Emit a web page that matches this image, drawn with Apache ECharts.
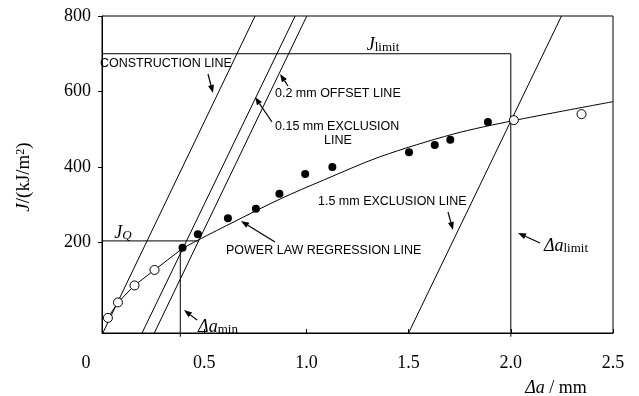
<!DOCTYPE html>
<html>
<head>
<meta charset="utf-8">
<script src="https://cdn.jsdelivr.net/npm/echarts@6/dist/echarts.min.js"></script>
<style>
  html, body { margin: 0; background: #fff; }
  #main { width: 639px; height: 396px; }
</style>
</head>
<body>
<div id="main"></div>
<script>
    // 测试点 (Δa mm, J kJ/m2)
    const openPts = [[0.029, 0], [0.078, 41], [0.159, 86], [0.257, 127], [2.015, 524], [2.346, 540]];
    const filledPts = [[0.394, 186], [0.469, 222], [0.616, 264], [0.753, 289], [0.868, 329], [0.994, 381],
        [1.127, 400], [1.502, 439], [1.628, 458], [1.704, 472], [1.888, 519]];

    // 钝化段折线 + 幂律回归曲线
    const bluntSegment = [[0.029, 0], [0.078, 41], [0.159, 86], [0.257, 127], [0.394, 184]];
    const regression = [[0.394, 184], [0.469, 206], [0.651, 256], [0.871, 315], [1.083, 365],
        [1.36, 427], [1.718, 487], [2.015, 523], [2.5, 573]];

    // 构造线 / 排除线
    const constructionLine = [[0.004, -40], [0.749, 800]];
    const exclusion015 = [[0.196, -40], [0.945, 800]];
    const offset02 = [[0.256, -40], [1.002, 800]];
    const exclusion15 = [[1.5, -40], [2.248, 800]];
    const jLimitLine = [[0, 700], [2.0, 700], [2.0, -50]];
    const jQLine = [[0, 204], [0.472, 204]];
    const aMinLine = [[0.383, 190], [0.383, -50]];

    const xTicks = [0, 0.5, 1.0, 1.5, 2.0, 2.5];
    const yTicks = [200, 400, 600, 800];

    const serif = 'Liberation Serif';
    const sans = 'Liberation Sans';

    function plainLine(data, extra) {
        return Object.assign({
            type: 'line',
            data: data,
            symbol: 'none',
            clip: false,
            silent: true,
            lineStyle: { color: '#000', width: 1 },
            z: 2
        }, extra || {});
    }

    function arrow(x1, y1, x2, y2) {
        let a = Math.atan2(y2 - y1, x2 - x1);
        let len = 8, w = 3;
        let bx = x2 - len * Math.cos(a), by = y2 - len * Math.sin(a);
        return {
            type: 'group',
            children: [{
                type: 'line',
                shape: { x1: x1, y1: y1, x2: bx, y2: by },
                style: { stroke: '#000', lineWidth: 1.2 }
            }, {
                type: 'polygon',
                shape: {
                    points: [[x2, y2],
                        [bx + w * Math.sin(a), by - w * Math.cos(a)],
                        [bx - w * Math.sin(a), by + w * Math.cos(a)]]
                },
                style: { fill: '#000' }
            }]
        };
    }

    function caps(text, x, y, align) {
        return {
            type: 'text',
            x: x,
            y: y,
            style: {
                text: text,
                font: '12.5px ' + sans,
                fill: '#000',
                align: align || 'left',
                verticalAlign: 'middle'
            }
        };
    }

    const serifRich = {
        i: { fontFamily: serif, fontStyle: 'italic', fontSize: 18, color: '#000' },
        n: { fontFamily: serif, fontSize: 18, color: '#000' },
        sub: { fontFamily: serif, fontSize: 13, color: '#000', verticalAlign: 'bottom' },
        subi: { fontFamily: serif, fontStyle: 'italic', fontSize: 13, color: '#000', verticalAlign: 'bottom' },
        yi: { fontFamily: serif, fontStyle: 'italic', fontSize: 19, color: '#000' },
        yn: { fontFamily: serif, fontSize: 19, color: '#000' },
        sup: { fontFamily: serif, fontSize: 12, color: '#000', verticalAlign: 'top' }
    };

    function serifLabel(text, x, y, rot) {
        return {
            type: 'text',
            x: x,
            y: y,
            rotation: rot || 0,
            style: {
                text: text,
                rich: serifRich,
                align: 'center',
                verticalAlign: 'middle'
            }
        };
    }

    let chart = echarts.init(document.getElementById('main'), null, { renderer: 'canvas' });

    chart.setOption({
        animation: false,
        backgroundColor: '#fff',
        grid: {
            left: 102,
            right: 26,
            top: 16,
            bottom: 63,
            show: true,
            borderColor: '#000',
            borderWidth: 1
        },
        xAxis: {
            type: 'value',
            min: 0,
            max: 2.5,
            interval: 0.5,
            axisLine: { onZero: false, lineStyle: { color: '#000', width: 1 } },
            axisTick: { inside: true, length: 4, lineStyle: { color: '#000' } },
            splitLine: { show: false },
            axisLabel: {
                margin: 21,
                color: '#000',
                fontFamily: serif,
                fontSize: 18,
                formatter: v => v === 0 ? '{z|0}' : xTicks.indexOf(v) >= 0 ? v.toFixed(1) : '',
                rich: {
                    z: { fontFamily: serif, fontSize: 18, color: '#000', padding: [0, 32, 0, 0] }
                }
            }
        },
        yAxis: {
            type: 'value',
            min: -40,
            max: 800,
            axisLine: { onZero: false, lineStyle: { color: '#000', width: 1 } },
            axisTick: { length: 4, customValues: yTicks, lineStyle: { color: '#000' } },
            splitLine: { show: false },
            axisLabel: {
                margin: 11,
                color: '#000',
                fontFamily: serif,
                fontSize: 18,
                customValues: yTicks,
                formatter: v => String(v)
            }
        },
        series: [
            plainLine(constructionLine),
            plainLine(exclusion015),
            plainLine(offset02),
            plainLine(exclusion15),
            plainLine(jLimitLine),
            plainLine(jQLine),
            plainLine(aMinLine),
            plainLine(bluntSegment),
            plainLine(regression, { smooth: 0.3 }),
            {
                type: 'scatter',
                data: openPts,
                symbol: 'circle',
                symbolSize: 9,
                itemStyle: { color: '#fff', borderColor: '#000', borderWidth: 1, opacity: 1 },
                z: 4
            },
            {
                type: 'scatter',
                data: filledPts,
                symbol: 'circle',
                symbolSize: 8,
                itemStyle: { color: '#000', opacity: 1 },
                z: 4
            }
        ],
        graphic: [
            caps('CONSTRUCTION LINE', 100, 64),
            arrow(208, 74, 213, 93),
            caps('0.2 mm OFFSET LINE', 275, 94),
            arrow(288, 86, 280, 74),
            caps('0.15 mm EXCLUSION', 275, 127),
            caps('LINE', 338, 141, 'center'),
            arrow(272, 122, 255, 97),
            caps('1.5 mm EXCLUSION LINE', 318, 202),
            arrow(448, 212, 453, 230),
            caps('POWER LAW REGRESSION LINE', 226, 251),
            arrow(275, 242, 241, 221),
            arrow(540, 243, 518, 233),
            arrow(197, 320, 184, 310),
            serifLabel('{i|J}{sub|limit}', 383, 45),
            serifLabel('{i|J}{subi|Q}', 123, 233),
            serifLabel('{i|Δa}{sub|limit}', 566, 246),
            serifLabel('{i|Δa}{sub|min}', 218, 327),
            serifLabel('{i|Δa}{n| / mm}', 556, 388),
            serifLabel('{yi|J}{yn|/(kJ/m}{sup|2}{yn|)}', 24, 177, Math.PI / 2)
        ]
    });
</script>
</body>
</html>
